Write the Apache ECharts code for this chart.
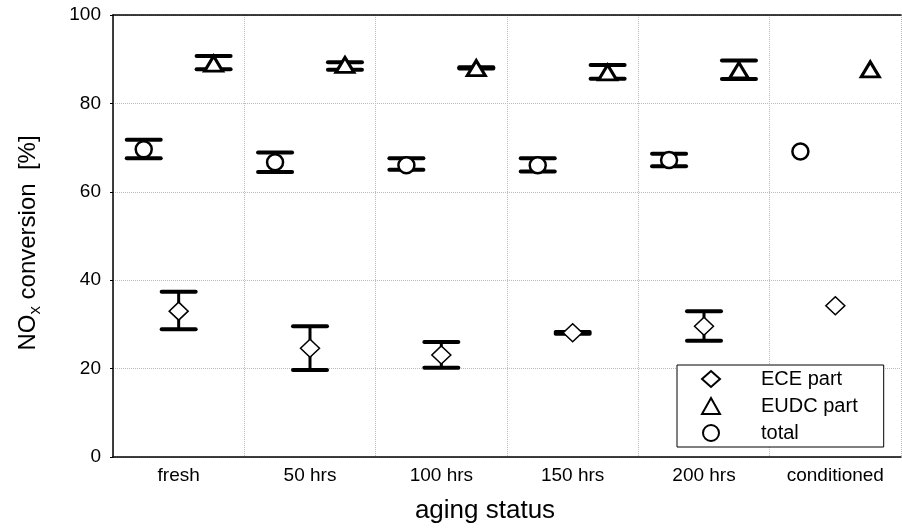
<!DOCTYPE html>
<html>
<head>
<meta charset="utf-8">
<script src="https://cdn.jsdelivr.net/npm/echarts@6/dist/echarts.min.js"></script>
<style>
  html, body { margin: 0; padding: 0; background: #fff; }
  #main { width: 902px; height: 529px; }
</style>
</head>
<body>
<div id="main"></div>
<script>
// aging status categories
var categories = ['fresh', '50 hrs', '100 hrs', '150 hrs', '200 hrs', 'conditioned'];
var yTicks = [0, 20, 40, 60, 80, 100];

// ECE part (diamond)
var eceMean = [33.0, 24.6, 23.1, 28.1, 29.6, 34.2];
var eceLow  = [28.9, 19.7, 20.2, 27.9, 26.3, null];
var eceHigh = [37.4, 29.6, 26.0, 28.3, 33.0, null];
// EUDC part (triangle)
var eudcMean = [89.0, 88.7, 88.0, 87.0, 87.5, 87.7];
var eudcLow  = [87.7, 87.6, 87.9, 85.6, 85.5, null];
var eudcHigh = [90.7, 89.3, 88.2, 88.7, 89.7, null];
// total (circle)
var totalMean = [69.6, 66.7, 66.0, 66.0, 67.2, 69.1];
var totalLow  = [67.6, 64.5, 65.0, 64.6, 65.8, null];
var totalHigh = [71.8, 68.9, 67.6, 67.6, 68.6, null];

var chart = echarts.init(document.getElementById('main'));

// position inside a category slot: circle left, diamond middle, triangle right
function pts(mean, off) {
  return mean.map(function (v, i) { return [i + 0.5 + off, v]; });
}
function bars(low, high, off) {
  var out = [];
  low.forEach(function (v, i) {
    if (v != null) out.push([i + 0.5 + off, v, high[i]]);
  });
  return out;
}

function renderErr(params, api) {
  var x = api.value(0);
  var lo = api.coord([x, api.value(1)]);
  var hi = api.coord([x, api.value(2)]);
  var hw = 17;
  var st = { stroke: '#000', lineWidth: 4, lineCap: 'round' };
  return {
    type: 'group',
    children: [
      { type: 'line', shape: { x1: lo[0], y1: lo[1], x2: hi[0], y2: hi[1] }, style: { stroke: '#000', lineWidth: 3 } },
      { type: 'line', shape: { x1: lo[0] - hw, y1: lo[1], x2: lo[0] + hw, y2: lo[1] }, style: st },
      { type: 'line', shape: { x1: hi[0] - hw, y1: hi[1], x2: hi[0] + hw, y2: hi[1] }, style: st }
    ]
  };
}

var off = 0.266;
var font = 'Liberation Sans, Arial, sans-serif';

var option = {
  animation: false,
  textStyle: { fontFamily: font },
  grid: { left: 113, right: 1, top: 15, bottom: 72 },
  legend: {
    orient: 'vertical',
    left: 677,
    top: 365,
    padding: [4, 26, 4, 24],
    itemWidth: 18,
    itemHeight: 16,
    itemGap: 7,
    borderColor: '#000',
    borderWidth: 1,
    borderRadius: 0,
    backgroundColor: '#fff',
    textStyle: { fontSize: 20, color: '#000', padding: [0, 0, 0, 36] },
    data: ['ECE part', 'EUDC part', 'total']
  },
  xAxis: [
    {
      type: 'category',
      data: categories,
      position: 'bottom',
      boundaryGap: true,
      axisLine: { lineStyle: { color: '#000', width: 1.5 } },
      axisTick: { inside: true, length: 4, lineStyle: { color: '#000' } },
      axisLabel: { color: '#000', fontSize: 19, margin: 9 },
      splitLine: { show: true, lineStyle: { color: '#bbb', type: 'dotted' } },
      name: 'aging status',
      nameLocation: 'middle',
      nameGap: 41,
      nameTextStyle: { fontSize: 26, color: '#000', padding: [0, 44, 0, 0] }
    },
    {
      type: 'value',
      min: 0,
      max: 6,
      position: 'top',
      axisLine: { show: true, lineStyle: { color: '#000', width: 1.5 } },
      axisTick: { show: false },
      axisLabel: { show: false },
      splitLine: { show: false }
    }
  ],
  yAxis: {
    type: 'value',
    min: yTicks[0],
    max: yTicks[yTicks.length - 1],
    interval: 20,
    axisLine: { show: true, lineStyle: { color: '#000', width: 1.5 } },
    axisTick: { show: true, length: 3, lineStyle: { color: '#000' } },
    axisLabel: { color: '#000', fontSize: 19, margin: 12 },
    splitLine: { show: true, lineStyle: { color: '#bbb', type: 'dotted' } },
    name: '{a|NO}{s|x}{a| conversion  [%]}',
    nameLocation: 'middle',
    nameGap: 69,
    nameRotate: 90,
    nameTextStyle: {
      color: '#000',
      padding: [0, 14, 0, 0],
      rich: {
        a: { fontSize: 24, color: '#000', fontFamily: font },
        s: { fontSize: 17, color: '#000', fontFamily: font, padding: [14, 0, 0, 0] }
      }
    }
  },
  series: [
    { type: 'custom', name: 'ECEerr', xAxisIndex: 1, renderItem: renderErr, data: bars(eceLow, eceHigh, 0), encode: { x: 0, y: [1, 2] }, z: 2 },
    { type: 'custom', name: 'EUDCerr', xAxisIndex: 1, renderItem: renderErr, data: bars(eudcLow, eudcHigh, off), encode: { x: 0, y: [1, 2] }, z: 2 },
    { type: 'custom', name: 'totalerr', xAxisIndex: 1, renderItem: renderErr, data: bars(totalLow, totalHigh, -off), encode: { x: 0, y: [1, 2] }, z: 2 },
    {
      type: 'scatter', name: 'ECE part', xAxisIndex: 1, z: 5,
      symbol: 'diamond', symbolSize: [19, 18],
      itemStyle: { color: '#fff', borderColor: '#000', borderWidth: 1.5, opacity: 1 },
      data: pts(eceMean, 0)
    },
    {
      type: 'scatter', name: 'EUDC part', xAxisIndex: 1, z: 5,
      symbol: 'triangle', symbolSize: [18, 15],
      itemStyle: { color: '#fff', borderColor: '#000', borderWidth: 3, opacity: 1 },
      data: pts(eudcMean, off)
    },
    {
      type: 'scatter', name: 'total', xAxisIndex: 1, z: 5,
      symbol: 'circle', symbolSize: 16,
      itemStyle: { color: '#fff', borderColor: '#000', borderWidth: 2.5, opacity: 1 },
      data: pts(totalMean, -off)
    }
  ]
};

chart.setOption(option);
</script>
</body>
</html>
